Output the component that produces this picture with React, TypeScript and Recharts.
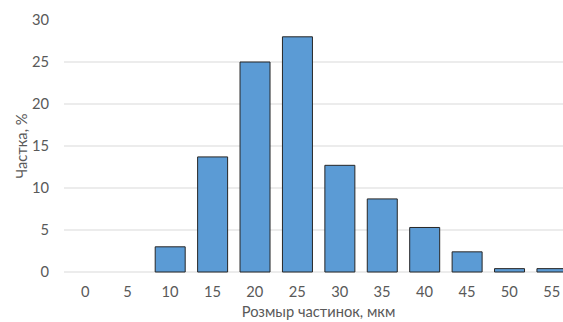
import { Bar, BarChart, CartesianGrid, Label, XAxis, YAxis } from "recharts";

const sizes = ["0", "5", "10", "15", "20", "25", "30", "35", "40", "45", "50", "55"];
const shares = [0, 0, 3, 13.7, 25, 28, 12.7, 8.7, 5.3, 2.4, 0.4, 0.4];
const yTicks = [0, 5, 10, 15, 20, 25, 30];
const gridLevels = [0, 5, 10, 15, 20, 25];

const data = sizes.map((size, i) => ({ size, share: shares[i] }));

const font = "Lato, 'Open Sans', sans-serif";
const fontSize = 14.7;
const tickStyle = { fill: "#595959", fontSize, fontFamily: font };

export default function App() {
  return (
    <div
      style={{
        position: "absolute",
        left: 0,
        top: 0,
        width: 563,
        height: 322,
        overflow: "hidden",
        background: "#fff",
      }}
    >
      <BarChart
        width={580}
        height={322}
        data={data}
        margin={{ top: 20, right: 7, bottom: 0, left: 0 }}
        barCategoryGap="15%"
      >
        <CartesianGrid
          vertical={false}
          stroke="#d9d9d9"
          horizontalValues={gridLevels}
        />
        <XAxis
          dataKey="size"
          height={50}
          axisLine={false}
          tickLine={false}
          tickSize={0}
          tickMargin={15}
          tick={tickStyle}
        >
          <Label
            value="Розмыр частинок, мкм"
            position="insideBottom"
            offset={5}
            style={{ fill: "#595959", fontSize, fontFamily: font }}
          />
        </XAxis>
        <YAxis
          width={64}
          domain={[0, 30]}
          ticks={yTicks}
          axisLine={false}
          tickLine={false}
          tickSize={0}
          tickMargin={15}
          tick={tickStyle}
        >
          <Label
            value="Частка, %"
            angle={-90}
            position="insideLeft"
            offset={22}
            style={{ fill: "#595959", fontSize, fontFamily: font, textAnchor: "middle" }}
          />
        </YAxis>
        <Bar
          dataKey="share"
          fill="#5b9bd5"
          stroke="#262626"
          strokeWidth={1}
          isAnimationActive={false}
        />
      </BarChart>
    </div>
  );
}
